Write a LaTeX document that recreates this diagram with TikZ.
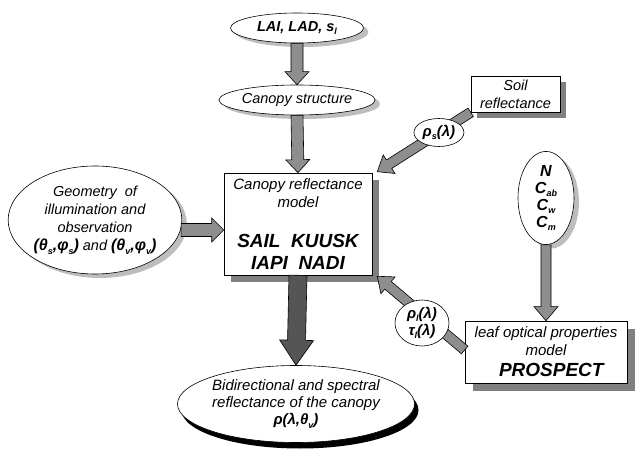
\documentclass[tikz,border=0pt]{standalone}
\usepackage{fontspec}
\setmainfont{Liberation Sans}
\usetikzlibrary{shapes.geometric,shadows,calc}
\newcommand\lo[1]{\raisebox{-0.45ex}{\fontsize{9}{9}\selectfont #1}}
\definecolor{arrgray}{HTML}{8E8E8E}
\definecolor{arrdark}{HTML}{555555}
\definecolor{boxshadow}{HTML}{808080}
\definecolor{ellshadow}{HTML}{BDBDBD}
\tikzset{
  every node/.style={font=\fontsize{14.5}{18}\selectfont\itshape, inner sep=0pt, align=center},
  ell/.style={ellipse, draw=black, line width=0.6pt, fill=white,
    general shadow={fill=ellshadow, shadow xshift=5pt, shadow yshift=-4pt}},
  blackell/.style={ellipse, draw=black, line width=0.6pt, fill=white,
    general shadow={fill=black, shadow xshift=4pt, shadow yshift=-6pt}},
  lbl/.style={ellipse, draw=black, line width=0.6pt, fill=white,
    font=\fontsize{15}{17}\selectfont\bfseries\itshape},
  boxnode/.style={rectangle, draw=black, line width=0.6pt, fill=white,
    general shadow={fill=boxshadow, shadow xshift=#1pt, shadow yshift=-#1pt}},
  boxnode/.default=7,
  fat/.style={draw=black, line width=0.6pt, line join=miter},
}
% fat arrow: #1 from, #2 to, #3 half shaft, #4 half head, #5 head length, #6 fill
\newcommand\fatarrow[6]{%
  \coordinate (fa-h) at ($(#2)!#5!(#1)$);
  \path[fat, fill=#6] ($(#1)!#3!90:(#2)$) -- ($(fa-h)!#3!90:(#2)$) -- ($(fa-h)!#4!90:(#2)$)
    -- (#2) -- ($(fa-h)!#4!-90:(#2)$) -- ($(fa-h)!#3!-90:(#2)$) -- ($(#1)!#3!-90:(#2)$) -- cycle;
}
\begin{document}
\begin{tikzpicture}[x=1pt,y=-1pt]
\useasboundingbox (0,0) rectangle (635,462);
% nodes
\node[ell, minimum width=133, minimum height=30] (lai) at (297,28) {\textbf{LAI, LAD, s\lo{l}}};
\node[ell, minimum width=136, minimum height=30] (cs) at (297,100) {Canopy structure};
\node[boxnode=6, minimum width=89, minimum height=36] (soil) at (515.5,94) {Soil\\reflectance};
\node[boxnode=7, minimum width=148, minimum height=102, font=\fontsize{15}{18}\selectfont\itshape] (crm) at (298,224)
  {Canopy reflectance\\model\\[22pt]{\fontsize{19}{22}\selectfont\bfseries SAIL\ \ KUUSK}\\[4pt]{\fontsize{19}{22}\selectfont\bfseries IAPI\ \ NADI}};
\node[ell, minimum width=166, minimum height=108] (geo) at (95,220)
  {Geometry\ \ of\\illumination and\\observation\\{\fontsize{16}{18}\selectfont\bfseries(θ\lo{s},φ\lo{s})} and {\fontsize{16}{18}\selectfont\bfseries(θ\lo{v},φ\lo{v})}};
\node[ell, minimum width=56, minimum height=80, font=\fontsize{16}{17}\selectfont\bfseries\itshape] (lv) at (546,198)
  {N\\C\lo{ab}\\C\lo{w}\\C\lo{m}};
\node[boxnode=8, minimum width=162, minimum height=62, font=\fontsize{15}{18}\selectfont\itshape] (pro) at (546,352)
  {leaf optical properties\\model\\[3pt]{\fontsize{19}{22}\selectfont\bfseries\ \ PROSPECT}};
\node[blackell, minimum width=222, minimum height=77, font=\fontsize{15}{17}\selectfont\itshape] (bdr) at (296,404)
  {Bidirectional and spectral\\reflectance of the canopy\\\textbf{ρ(λ,θ\lo{v})}};
% connectors
\fatarrow{lai.south}{cs.north}{6pt}{12pt}{13pt}{arrgray}
\fatarrow{cs.south}{crm.north}{6pt}{12pt}{13pt}{arrgray}
\coordinate (geotip) at ($(crm.west)+(0,6)$);
\coordinate (geostart) at ($(geo.east |- geotip)+(-1,0)$);
\fatarrow{geostart}{geotip}{6.5pt}{12pt}{12pt}{arrgray}
\coordinate (soiltip) at ($(crm.north east)+(5,-1)$);
\fatarrow{soil.south west}{soiltip}{5pt}{11pt}{14pt}{arrgray}
\fatarrow{lv.south}{pro.north}{5pt}{12pt}{14pt}{arrgray}
\coordinate (prostart) at ($(pro.west)+(0,-2)$);
\coordinate (protip) at ($(crm.south east)+(5,1)$);
\fatarrow{prostart}{protip}{5pt}{11pt}{14pt}{arrgray}
\fatarrow{crm.south}{bdr.north}{9pt}{17pt}{25pt}{arrdark}
% labels on connectors
\node[lbl, minimum width=50, minimum height=28] (rs) at ($(soil.south west)!0.34!(soiltip)$) {ρ\lo{s}(λ)};
\node[lbl, minimum width=54, minimum height=46] (rl) at (422,323) {ρ\lo{l}(λ)\\τ\lo{l}(λ)};
\end{tikzpicture}
\end{document}
